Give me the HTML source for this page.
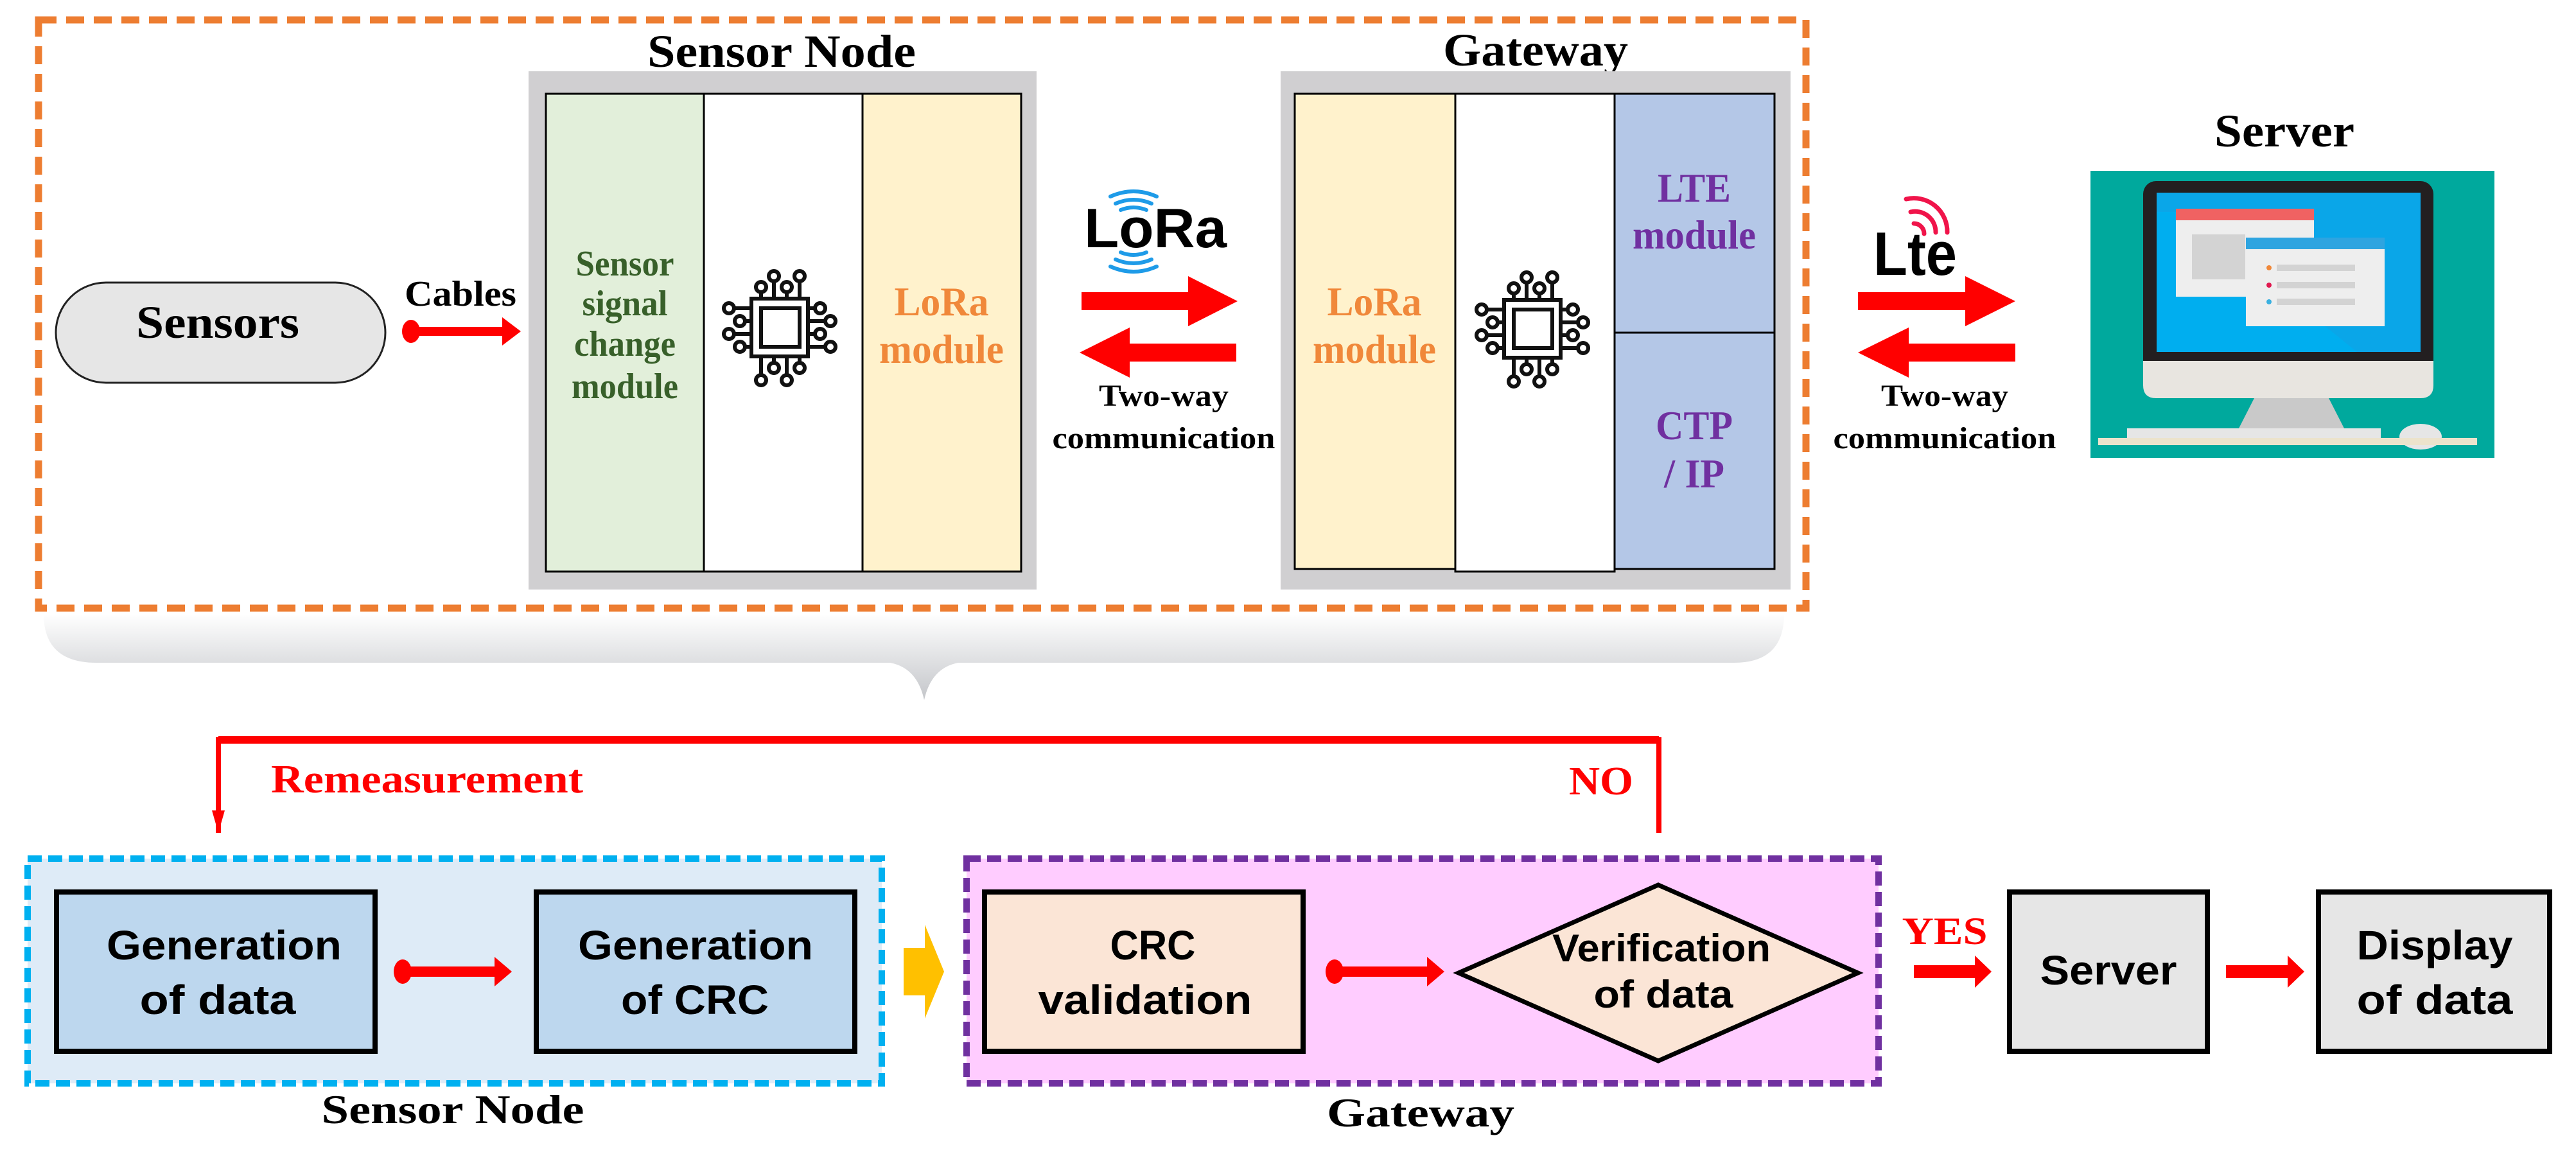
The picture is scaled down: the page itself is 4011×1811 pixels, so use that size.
<!DOCTYPE html>
<html><head><meta charset="utf-8"><style>
html,body{margin:0;padding:0;background:#fff;}
svg{display:block;}
.s{font-family:"Liberation Serif",serif;font-weight:bold;}
.a{font-family:"Liberation Sans",sans-serif;font-weight:bold;}
</style></head><body>
<svg width="4011" height="1811" viewBox="0 0 4011 1811" xmlns="http://www.w3.org/2000/svg">
<defs>
<linearGradient id="bg" x1="0" y1="0" x2="0" y2="1">
<stop offset="0" stop-color="#ffffff"/><stop offset="1" stop-color="#c4c6ca"/>
</linearGradient>
<g id="chip" fill="none" stroke="#111" stroke-width="6">
<rect x="-44" y="-45" width="88" height="90"/>
<rect x="-29" y="-30" width="60" height="60"/>
<path d="M-29,-45V-55 M-9,-45V-72 M11,-45V-55 M31,-45V-72 M-29,45V74 M-9,45V55 M11,45V74 M31,45V55 M-44,-30H-71 M-44,-10H-54 M-44,10H-71 M-44,30H-54 M44,-30H55 M44,-10H71 M44,10H55 M44,30H71"/>
<circle cx="-29" cy="-63" r="8"/><circle cx="-9" cy="-80" r="8"/><circle cx="11" cy="-63" r="8"/><circle cx="31" cy="-80" r="8"/>
<circle cx="-29" cy="82" r="8"/><circle cx="-9" cy="63" r="8"/><circle cx="11" cy="82" r="8"/><circle cx="31" cy="63" r="8"/>
<circle cx="-79" cy="-30" r="8"/><circle cx="-62" cy="-10" r="8"/><circle cx="-79" cy="10" r="8"/><circle cx="-62" cy="30" r="8"/>
<circle cx="63" cy="-30" r="8"/><circle cx="79" cy="-10" r="8"/><circle cx="63" cy="10" r="8"/><circle cx="79" cy="30" r="8"/>
</g>
</defs>

<rect x="60" y="31" width="2752" height="916" fill="none" stroke="#ed7d31" stroke-width="11" stroke-dasharray="28,15"/>

<path d="M68,956 L2778,956 Q2778,1032 2700,1032 L1492,1032 Q1450,1040 1439,1090 Q1428,1040 1386,1032 L150,1032 Q68,1032 68,956 Z" fill="url(#bg)"/>

<rect x="87" y="440" width="513" height="156" rx="78" fill="#e6e6e6" stroke="#222" stroke-width="3"/>
<text class="s" x="339" y="526" font-size="72" text-anchor="middle" textLength="254" lengthAdjust="spacingAndGlyphs">Sensors</text>
<text class="s" x="717" y="476" font-size="56" text-anchor="middle" textLength="174" lengthAdjust="spacingAndGlyphs">Cables</text>
<ellipse cx="640" cy="516" rx="14" ry="18" fill="#f00"/>
<rect x="640" y="509" width="150" height="14" fill="#f00"/>
<polygon points="782,494 811,516 782,538" fill="#f00"/>

<text class="s" x="1217" y="104" font-size="72" text-anchor="middle" textLength="418" lengthAdjust="spacingAndGlyphs">Sensor Node</text>
<rect x="823" y="111" width="791" height="807" fill="#d0cfd1"/>
<rect x="850" y="146" width="246" height="744" fill="#e2efda" stroke="#000" stroke-width="3"/>
<rect x="1096" y="146" width="247" height="744" fill="#fff" stroke="#000" stroke-width="3"/>
<rect x="1343" y="146" width="247" height="744" fill="#fff2cc" stroke="#000" stroke-width="3"/>
<g class="s" fill="#38602a" font-size="56" text-anchor="middle">
<text x="973" y="429" textLength="153" lengthAdjust="spacingAndGlyphs">Sensor</text>
<text x="973" y="491" textLength="133" lengthAdjust="spacingAndGlyphs">signal</text>
<text x="973" y="554" textLength="158" lengthAdjust="spacingAndGlyphs">change</text>
<text x="973" y="620" textLength="166" lengthAdjust="spacingAndGlyphs">module</text>
</g>
<use href="#chip" x="1214" y="510"/>
<g class="s" fill="#f0883a" font-size="64" text-anchor="middle">
<text x="1466" y="491" textLength="147" lengthAdjust="spacingAndGlyphs">LoRa</text>
<text x="1466" y="565" textLength="194" lengthAdjust="spacingAndGlyphs">module</text>
</g>

<g fill="none" stroke="#1e9be8" stroke-width="6" stroke-linecap="round">
<path d="M1729,306 Q1765,290 1801,306"/><path d="M1737,317 Q1765,305 1793,317"/><path d="M1745,327 Q1765,319 1785,327"/>
<path d="M1745,393 Q1765,401 1785,393"/><path d="M1737,404 Q1765,416 1793,404"/><path d="M1729,415 Q1765,431 1801,415"/>
</g>
<text class="a" x="1799" y="385" font-size="86" text-anchor="middle" textLength="222" lengthAdjust="spacingAndGlyphs">LoRa</text>

<rect x="1684" y="455" width="175" height="28" fill="#f00"/>
<polygon points="1850,430 1927,469 1850,508" fill="#f00"/>
<rect x="1750" y="535" width="175" height="28" fill="#f00"/>
<polygon points="1759,510 1681,549 1759,588" fill="#f00"/>
<text class="s" x="1812" y="632" font-size="48" text-anchor="middle" textLength="202" lengthAdjust="spacingAndGlyphs">Two-way</text>
<text class="s" x="1812" y="698" font-size="48" text-anchor="middle" textLength="347" lengthAdjust="spacingAndGlyphs">communication</text>

<text class="s" x="2391" y="102" font-size="72" text-anchor="middle" textLength="288" lengthAdjust="spacingAndGlyphs">Gateway</text>
<rect x="1994" y="111" width="794" height="807" fill="#d0cfd1"/>
<rect x="2016" y="146" width="250" height="740" fill="#fff2cc" stroke="#000" stroke-width="3"/>
<rect x="2266" y="146" width="248" height="744" fill="#fff" stroke="#000" stroke-width="3"/>
<rect x="2514" y="146" width="249" height="372" fill="#b4c7e7" stroke="#000" stroke-width="3"/>
<rect x="2514" y="518" width="249" height="368" fill="#b4c7e7" stroke="#000" stroke-width="3"/>
<g class="s" fill="#f0883a" font-size="64" text-anchor="middle">
<text x="2140" y="491" textLength="147" lengthAdjust="spacingAndGlyphs">LoRa</text>
<text x="2140" y="565" textLength="192" lengthAdjust="spacingAndGlyphs">module</text>
</g>
<use href="#chip" x="2386" y="512"/>
<g class="s" fill="#7030a0" font-size="64" text-anchor="middle">
<text x="2638" y="314" textLength="114" lengthAdjust="spacingAndGlyphs">LTE</text>
<text x="2638" y="387" textLength="192" lengthAdjust="spacingAndGlyphs">module</text>
<text x="2638" y="684" textLength="120" lengthAdjust="spacingAndGlyphs">CTP</text>
<text x="2638" y="759" textLength="94" lengthAdjust="spacingAndGlyphs">/ IP</text>
</g>

<g fill="none" stroke="#f0144a" stroke-width="7" stroke-linecap="round">
<path d="M2980,348 A16,16 0 0 1 2996,364"/>
<path d="M2975,330 A32,32 0 0 1 3014,362"/>
<path d="M2968,310 A52,52 0 0 1 3032,362"/>
</g>
<text class="a" x="2982" y="428" font-size="96" text-anchor="middle" textLength="130" lengthAdjust="spacingAndGlyphs">Lte</text>

<rect x="2893" y="455" width="170" height="28" fill="#f00"/>
<polygon points="3060,430 3138,469 3060,508" fill="#f00"/>
<rect x="2965" y="535" width="173" height="28" fill="#f00"/>
<polygon points="2972,510 2893,549 2972,588" fill="#f00"/>
<text class="s" x="3028" y="632" font-size="48" text-anchor="middle" textLength="198" lengthAdjust="spacingAndGlyphs">Two-way</text>
<text class="s" x="3028" y="698" font-size="48" text-anchor="middle" textLength="347" lengthAdjust="spacingAndGlyphs">communication</text>

<text class="s" x="3557" y="228" font-size="72" text-anchor="middle" textLength="218" lengthAdjust="spacingAndGlyphs">Server</text>
<rect x="3255" y="266" width="629" height="447" fill="#00a99d"/>
<rect x="3337" y="282" width="452" height="300" rx="20" fill="#231f20"/>
<path d="M3337,562 H3789 V600 Q3789,620 3769,620 H3357 Q3337,620 3337,600 Z" fill="#e8e5e0"/>
<rect x="3358" y="300" width="411" height="248" fill="#00aeef"/>
<polygon points="3358,300 3769,300 3769,548 3670,548 3400,330 3358,330" fill="#0aa6e8"/>
<polygon points="3510,620 3626,620 3650,667 3486,667" fill="#c9c9c9"/>
<rect x="3312" y="667" width="395" height="18" fill="#e6e6e6"/>
<ellipse cx="3769" cy="680" rx="33" ry="20" fill="#e6e6e6"/>
<rect x="3267" y="682" width="590" height="11" fill="#ece3cc"/>
<rect x="3388" y="325" width="215" height="137" fill="#eeeeee"/>
<rect x="3388" y="325" width="215" height="18" fill="#f06262"/>
<rect x="3413" y="365" width="83" height="70" fill="#d3d3d3"/>
<rect x="3497" y="370" width="216" height="138" fill="#eeeeee"/>
<rect x="3497" y="370" width="216" height="18" fill="#2ea4e0"/>
<rect x="3545" y="412" width="122" height="10" fill="#d3d3d3"/>
<rect x="3545" y="439" width="122" height="10" fill="#d3d3d3"/>
<rect x="3545" y="465" width="122" height="10" fill="#d3d3d3"/>
<circle cx="3533" cy="417" r="4" fill="#f0883a"/><circle cx="3533" cy="444" r="4" fill="#e0194f"/><circle cx="3533" cy="470" r="4" fill="#3ab0e0"/>

<path d="M340,1297 V1152 H2583 V1297" fill="none" stroke="#f00" stroke-width="8"/>
<rect x="340" y="1146" width="2243" height="12" fill="#f00"/>
<polygon points="330,1262 350,1262 340,1297" fill="#f00"/>
<text class="s" x="665" y="1234" font-size="62" fill="#f00" text-anchor="middle" textLength="486" lengthAdjust="spacingAndGlyphs">Remeasurement</text>
<text class="s" x="2493" y="1237" font-size="62" fill="#f00" text-anchor="middle" textLength="100" lengthAdjust="spacingAndGlyphs">NO</text>

<rect x="43" y="1337" width="1330" height="350" fill="#deebf7" stroke="#00b0f0" stroke-width="10" stroke-dasharray="22,10"/>
<rect x="88" y="1389" width="496" height="248" fill="#bdd7ee" stroke="#000" stroke-width="8"/>
<rect x="835" y="1389" width="496" height="248" fill="#bdd7ee" stroke="#000" stroke-width="8"/>
<g class="a" font-size="64" text-anchor="middle">
<text x="349" y="1494" textLength="366" lengthAdjust="spacingAndGlyphs">Generation</text>
<text x="339" y="1579" textLength="243" lengthAdjust="spacingAndGlyphs">of data</text>
<text x="1083" y="1494" textLength="366" lengthAdjust="spacingAndGlyphs">Generation</text>
<text x="1082" y="1579" textLength="230" lengthAdjust="spacingAndGlyphs">of CRC</text>
</g>
<ellipse cx="627" cy="1513" rx="14" ry="19" fill="#f00"/>
<rect x="627" y="1505" width="150" height="16" fill="#f00"/>
<polygon points="770,1490 797,1513 770,1536" fill="#f00"/>
<text class="s" x="705" y="1749" font-size="64" text-anchor="middle" textLength="409" lengthAdjust="spacingAndGlyphs">Sensor Node</text>

<polygon points="1407,1476 1440,1476 1440,1440 1470,1513 1440,1586 1440,1550 1407,1550" fill="#ffc000"/>

<rect x="1505" y="1337" width="1420" height="350" fill="#ffccff" stroke="#7030a0" stroke-width="10" stroke-dasharray="22,10"/>
<rect x="1533" y="1389" width="496" height="248" fill="#fbe5d6" stroke="#000" stroke-width="8"/>
<polygon points="2582,1378 2893,1515 2582,1652 2271,1515" fill="#fbe5d6" stroke="#000" stroke-width="7"/>
<g class="a" font-size="64" text-anchor="middle">
<text x="1795" y="1494" textLength="133" lengthAdjust="spacingAndGlyphs">CRC</text>
<text x="1783" y="1579" textLength="333" lengthAdjust="spacingAndGlyphs">validation</text>
<text x="2587" y="1497" font-size="60" textLength="340" lengthAdjust="spacingAndGlyphs">Verification</text>
<text x="2590" y="1569" font-size="60" textLength="217" lengthAdjust="spacingAndGlyphs">of data</text>
</g>
<ellipse cx="2078" cy="1513" rx="14" ry="19" fill="#f00"/>
<rect x="2078" y="1505" width="150" height="16" fill="#f00"/>
<polygon points="2222,1490 2249,1513 2222,1536" fill="#f00"/>
<text class="s" x="2212" y="1754" font-size="64" text-anchor="middle" textLength="292" lengthAdjust="spacingAndGlyphs">Gateway</text>

<text class="s" x="3028" y="1470" font-size="60" fill="#f00" text-anchor="middle" textLength="133" lengthAdjust="spacingAndGlyphs">YES</text>
<rect x="2980" y="1503" width="100" height="20" fill="#f00"/>
<polygon points="3075,1488 3101,1513 3075,1538" fill="#f00"/>
<rect x="3129" y="1389" width="308" height="248" fill="#e6e6e6" stroke="#000" stroke-width="8"/>
<text class="a" x="3283" y="1533" font-size="64" text-anchor="middle" textLength="213" lengthAdjust="spacingAndGlyphs">Server</text>
<rect x="3466" y="1503" width="100" height="20" fill="#f00"/>
<polygon points="3562,1488 3588,1513 3562,1538" fill="#f00"/>
<rect x="3610" y="1389" width="360" height="248" fill="#e6e6e6" stroke="#000" stroke-width="8"/>
<g class="a" font-size="64" text-anchor="middle">
<text x="3791" y="1494" textLength="243" lengthAdjust="spacingAndGlyphs">Display</text>
<text x="3791" y="1579" textLength="243" lengthAdjust="spacingAndGlyphs">of data</text>
</g>
</svg>
</body></html>
